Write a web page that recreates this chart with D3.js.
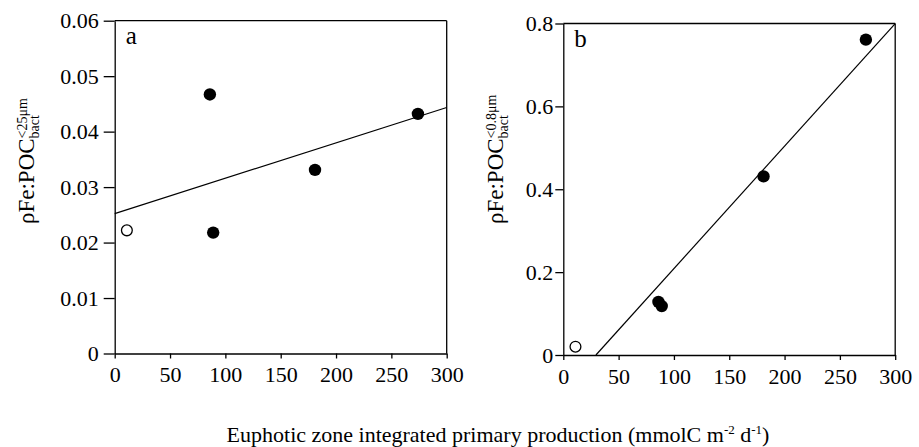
<!DOCTYPE html>
<html><head><meta charset="utf-8">
<script src="https://cdn.jsdelivr.net/npm/d3@7"></script>
<style>
body{margin:0;background:#fff;}
svg text{font-family:"Liberation Serif","Times New Roman",serif !important;fill:#000;}
</style></head>
<body><svg id="c" width="919" height="447"></svg>
<script>
// Data
const panelLetters = ["a", "b"];
const xTicks = [0, 50, 100, 150, 200, 250, 300];
const yTicksA = [0, 0.01, 0.02, 0.03, 0.04, 0.05, 0.06];
const yTicksB = [0, 0.2, 0.4, 0.6, 0.8];
// Panel a: open symbol + filled symbols
const openA = [{x: 11, y: 0.0222}];
const filledA = [
  {x: 86, y: 0.0467}, {x: 89, y: 0.0218}, {x: 181, y: 0.0331}, {x: 274, y: 0.0432}
];
// Panel b
const openB = [{x: 11, y: 0.020}];
const filledB = [
  {x: 86, y: 0.128}, {x: 89, y: 0.118}, {x: 181, y: 0.431}, {x: 273.5, y: 0.761}
];
const yLabelSupA = "<25\u03bcm";
const yLabelSupB = "<0.8\u03bcm";
const yLabelMain = "\u03c1Fe:POC";
const yLabelSub = "bact";
const FONT = '"Liberation Serif","Times New Roman",serif';

const svg = d3.select("#c");

function fit(points) {
  const mx = d3.mean(points, d => d.x), my = d3.mean(points, d => d.y);
  const sxy = d3.sum(points, d => (d.x - mx) * (d.y - my));
  const sxx = d3.sum(points, d => (d.x - mx) ** 2);
  const m = sxy / sxx;
  return {m, b: my - m * mx};
}

function panel(cfg) {
  const x = d3.scaleLinear().domain([0, 300]).range(cfg.xr);
  const y = d3.scaleLinear().domain(cfg.ydom).range(cfg.yr);
  const g = svg.append("g");
  const fmt = cfg.fmt;
  // frame: top & right
  g.append("line").attr("x1", x(0)).attr("x2", x(300)).attr("y1", y(cfg.ydom[1])).attr("y2", y(cfg.ydom[1]))
    .attr("stroke", "#000").attr("stroke-width", 1.3);
  g.append("line").attr("x1", x(300)).attr("x2", x(300)).attr("y1", y(0)).attr("y2", y(cfg.ydom[1]))
    .attr("stroke", "#000").attr("stroke-width", 1.3);
  const ax = g.append("g").attr("transform", `translate(0,${y(0)})`)
    .call(d3.axisBottom(x).tickValues(xTicks).tickFormat(d3.format("d")).tickSize(5).tickPadding(8).tickSizeOuter(0));
  const ay = g.append("g").attr("transform", `translate(${x(0)},0)`)
    .call(d3.axisLeft(y).tickValues(cfg.yticks).tickFormat(d => d === 0 ? "0" : fmt(d)).tickSize(cfg.ytick).tickPadding(cfg.ypad).tickSizeOuter(0));
  [ax, ay].forEach(a => {
    a.attr("font-family", FONT).attr("font-size", 22);
    a.selectAll("path,line").attr("stroke", "#000").attr("stroke-width", 1.3);
    a.selectAll("text").attr("font-size", 22).style("font-family", FONT);
  });
  // regression line over all points
  const all = cfg.open.concat(cfg.filled);
  const f = fit(all);
  let x0 = 0, x1 = 300;
  if (f.b < 0) x0 = -f.b / f.m;
  const yEnd = f.b + f.m * 300;
  if (yEnd > cfg.ydom[1]) x1 = (cfg.ydom[1] - f.b) / f.m;
  g.append("line").attr("x1", x(x0)).attr("y1", y(f.b + f.m * x0))
    .attr("x2", x(x1)).attr("y2", y(f.b + f.m * x1))
    .attr("stroke", "#000").attr("stroke-width", 1.2);
  g.selectAll(".f").data(cfg.filled).join("circle")
    .attr("cx", d => x(d.x)).attr("cy", d => y(d.y)).attr("r", 6.2).attr("fill", "#000");
  g.selectAll(".o").data(cfg.open).join("circle")
    .attr("cx", d => x(d.x)).attr("cy", d => y(d.y)).attr("r", 5.4)
    .attr("fill", "#fff").attr("stroke", "#000").attr("stroke-width", 1.3);
  // panel letter
  g.append("text").attr("x", x(0) + 11).attr("y", y(cfg.ydom[1]) + 23).attr("font-size", 25)
    .style("font-family", FONT).text(cfg.letter);
  // y label
  const lg = g.append("g").attr("transform", `translate(${cfg.ylx},${cfg.yly}) rotate(-90)`);
  const mt = lg.append("text").attr("x", 0).attr("y", 0).attr("font-size", 23).style("font-family", FONT).text(yLabelMain);
  const w = mt.node().getComputedTextLength();
  lg.append("text").attr("x", w).attr("y", 5).attr("font-size", 14).style("font-family", FONT).text(yLabelSub);
  lg.append("text").attr("x", w).attr("y", -7).attr("font-size", 14).style("font-family", FONT).text(cfg.sup);
}

panel({xr: [114.7, 446.7], ydom: [0, 0.06], yr: [353.5, 20.7], yticks: yTicksA, fmt: d3.format(".2f"),
  ytick: 11, ypad: 5, open: openA, filled: filledA, letter: panelLetters[0], ylx: 34, yly: 224, sup: yLabelSupA});
panel({xr: [563.3, 895.2], ydom: [0, 0.8], yr: [355, 23.5], yticks: yTicksB, fmt: d3.format(".1f"),
  ytick: 8, ypad: 2, open: openB, filled: filledB, letter: panelLetters[1], ylx: 503, yly: 224, sup: yLabelSupB});

// x title
const xt = svg.append("text").attr("x", 498).attr("y", 442).attr("text-anchor", "middle").attr("font-size", 22)
  .style("font-family", FONT);
xt.append("tspan").text("Euphotic zone integrated primary production (mmolC m");
xt.append("tspan").attr("font-size", 13).attr("dy", -8).text("-2");
xt.append("tspan").attr("dy", 8).text(" d");
xt.append("tspan").attr("font-size", 13).attr("dy", -8).text("-1");
xt.append("tspan").attr("dy", 8).text(")");
</script></body></html>
